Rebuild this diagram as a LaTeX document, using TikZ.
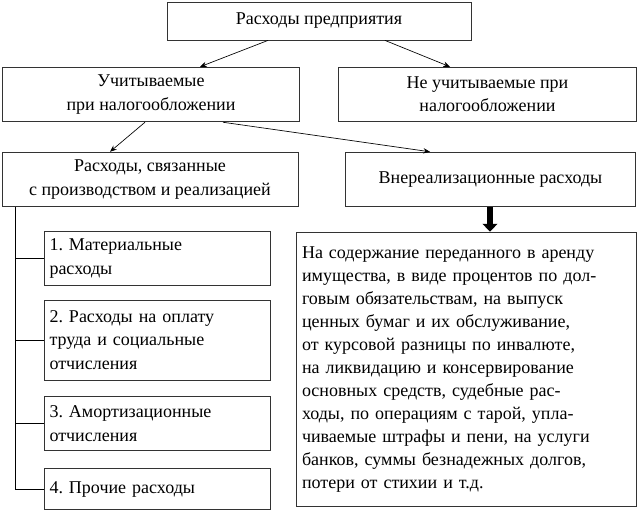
\documentclass[tikz,border=0pt]{standalone}
\usepackage{fontspec}
\setmainfont{Liberation Serif}
\frenchspacing
\usetikzlibrary{arrows.meta}
\tikzset{
  box/.style={draw=black!80, line width=0.6pt, inner sep=2pt, align=center,
    font=\fontsize{13.5}{17.5}\selectfont},
  arrow/.style={-{Stealth[length=5pt,width=4pt]}, line width=0.5pt},
  fat/.style={-{Triangle[length=6pt,width=11pt]}, line width=4pt},
  link/.style={line width=0.6pt}
}
\begin{document}
\begin{tikzpicture}[x=0.75pt,y=-0.75pt]
  \useasboundingbox (0,0) rectangle (638,511);
  % boxes
  \node (top) [box, minimum width=228pt, minimum height=28.5pt] at (319,21) {Расходы предприятия};
  \node (tax) [box, minimum width=223pt, minimum height=41pt] at (151,94.5) {Учитываемые\\при налогообложении};
  \node (notax) [box, minimum width=223pt, minimum height=41pt] at (487.5,94.5) {Не учитываемые при\\налогообложении};
  \node (prod) [box, minimum width=222pt, minimum height=41pt] at (150,179.5) {Расходы, связанные\\с производством и реализацией};
  \node (extra) [box, minimum width=218pt, minimum height=41pt] at (490.5,179.5) {Внереализационные расходы};
  \node (list) [box, minimum width=255pt, minimum height=206pt, text width=246pt, align=left, font=\fontsize{13.5}{17.3}\selectfont] at (466,369.5)
    {На содержание переданного в аренду\\имущества, в виде процентов по дол-\\говым обязательствам, на выпуск\\ценных бумаг и их обслуживание,\\от курсовой разницы по инвалюте,\\на ликвидацию и консервирование\\основных средств, судебные рас-\\ходы, по операциям с тарой, упла-\\чиваемые штрафы и пени, на услуги\\банков, суммы безнадежных долгов,\\потери от стихии и т.д.};
  \node (mat) [box, minimum width=169pt, minimum height=40pt, text width=162pt, align=left] at (157.5,258.5) {1. Материальные\\расходы};
  \node (pay) [box, minimum width=169pt, minimum height=60pt, text width=162pt, align=left] at (157.5,340) {2. Расходы на оплату\\труда и социальные\\отчисления};
  \node (amort) [box, minimum width=169pt, minimum height=40pt, text width=162pt, align=left] at (157.5,423.5) {3. Амортизационные\\отчисления};
  \node (other) [box, minimum width=169pt, minimum height=31pt, text width=162pt, align=left] at (157.5,489) {4. Прочие расходы};
  % connectors
  \draw [arrow] (top.south -| 268,0) -- (tax.north -| 200,0);
  \draw [arrow] (top.south -| 385,0) -- (notax.north -| 450,0);
  \draw [arrow] (tax.south -| 145,0) -- (prod.north -| 110,0);
  \draw [arrow] (tax.south -| 223,0) -- (extra.north -| 430,0);
  \draw [fat] (extra.south -| 490,0) -- (list.north -| 490,0);
  \coordinate (trunk) at (prod.south -| 15,0);
  \draw [link] (trunk) |- (other.west);
  \foreach \n in {mat,pay,amort}
    \draw [link] (trunk |- \n.west) -- (\n.west);
\end{tikzpicture}
\end{document}
